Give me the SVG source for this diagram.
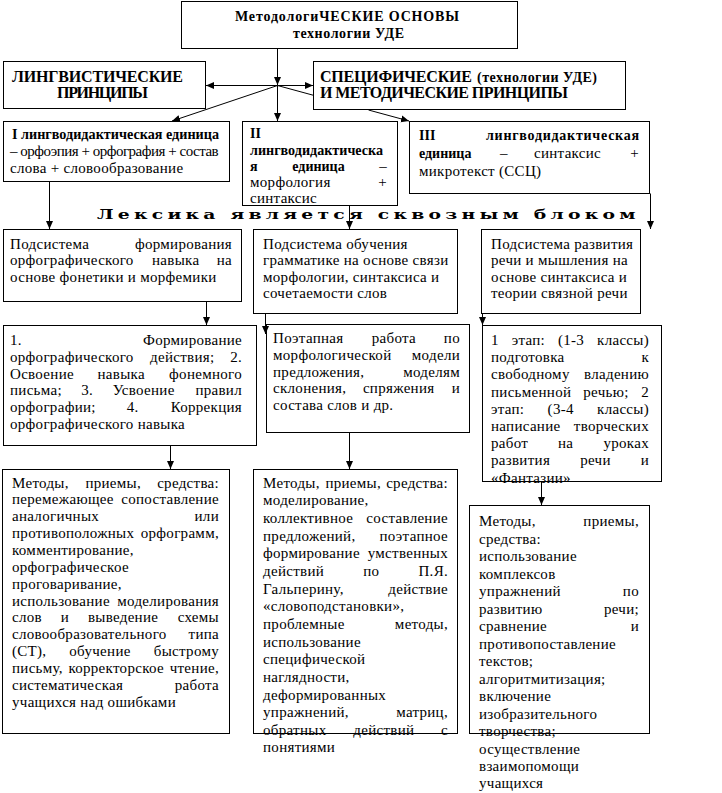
<svg xmlns="http://www.w3.org/2000/svg" width="722" height="793" viewBox="0 0 722 793">
<defs>
<marker id="ah" viewBox="0 0 8 8" refX="8" refY="4" markerWidth="8" markerHeight="8" markerUnits="userSpaceOnUse" orient="auto"><path d="M0,0.5 L8,4 L0,7.5 z" fill="#000"/></marker>
</defs>
<style>
rect{fill:#fff;stroke:#000;stroke-width:1}
text{font-family:"Liberation Serif","Times New Roman",serif;fill:#000}
.r{font-size:15px;letter-spacing:0.3px}
.bd{font-size:14px;font-weight:bold}
.hd{font-size:16px;font-weight:bold}
.ti{font-size:14px;font-weight:bold}
.e{text-anchor:end}
.m{text-anchor:middle}
.lx{font-family:"DejaVu Serif",serif;font-size:12.5px;font-weight:bold}
#conn path{stroke:#000;stroke-width:1;fill:none}
#conn path.a{marker-end:url(#ah)}
</style>
<rect x="0" y="0" width="722" height="793" style="stroke:none"/>

<g id="n-title"><rect x="181.5" y="1.5" width="336" height="47"/>
<text class="ti" x="235" y="21" textLength="224">МетодологиЧЕСКИЕ ОСНОВЫ</text>
<text class="ti" x="293" y="38" textLength="111">технологии УДЕ</text></g>

<g id="n-ling"><rect x="3.5" y="61.5" width="202" height="47"/>
<text class="hd" x="12" y="81.5" textLength="171">ЛИНГВИСТИЧЕСКИЕ</text>
<text class="hd" x="57" y="98" textLength="91">ПРИНЦИПЫ</text></g>

<g id="n-spec"><rect x="313.5" y="61.5" width="312" height="48"/>
<text class="hd" x="320" y="82" textLength="152">СПЕЦИФИЧЕСКИЕ</text>
<text class="ti" x="477" y="82" textLength="120">(технологии УДЕ)</text>
<text class="hd" x="320" y="98" textLength="248">И МЕТОДИЧЕСКИЕ ПРИНЦИПЫ</text></g>

<g id="n-u1"><rect x="3.5" y="121.5" width="226" height="60"/>
<text class="bd" x="12" y="139" textLength="207" lengthAdjust="spacingAndGlyphs">I лингводидактическая единица</text>
<text class="r" x="10" y="156" textLength="209">– орфоэпия + орфография + состав</text>
<text class="r" x="10" y="173">слова + словообразование</text></g>

<g id="n-u2"><rect x="242.5" y="121.5" width="155" height="84"/>
<text class="bd" x="250" y="138">II</text>
<text class="bd" x="250" y="155" textLength="133" lengthAdjust="spacingAndGlyphs">лингводидактическа</text>
<text class="bd" x="250" y="171">я</text><text class="bd m" x="318.5" y="171">единица</text><text class="r e" x="387" y="171">–</text>
<text class="r" x="250" y="187">морфология</text><text class="r e" x="387" y="187">+</text>
<text class="r" x="250" y="203">синтаксис</text></g>

<g id="n-u3"><rect x="409.5" y="121.5" width="240" height="72"/>
<text class="bd" x="419" y="140">III</text><text class="bd" x="486" y="140" textLength="153">лингводидактическая</text>
<text class="bd" x="419" y="158">единица</text><text class="r" x="500" y="158">–</text><text class="r" x="534" y="158">синтаксис</text><text class="r e" x="639" y="158">+</text>
<text class="r" x="419" y="176">микротекст (ССЦ)</text></g>

<g id="lexika"><text class="lx" transform="translate(97,218.5) scale(1.5,1)" textLength="359">Лексика является сквозным блоком</text></g>

<g id="n-a"><rect x="3.5" y="229.5" width="238" height="72"/>
<text class="r" x="10" y="248.5">Подсистема</text><text class="r e" x="232" y="248.5">формирования</text>
<text class="r" x="10" y="265">орфографического</text><text class="r" x="152" y="265">навыка</text><text class="r e" x="232" y="265">на</text>
<text class="r" x="10" y="281.5">основе фонетики и морфемики</text></g>

<g id="n-b"><rect x="253.5" y="229.5" width="204" height="84"/>
<text class="r" x="263" y="248.5">Подсистема обучения</text>
<text class="r" x="263" y="265">грамматике на основе связи</text>
<text class="r" x="263" y="281.5">морфологии, синтаксиса и</text>
<text class="r" x="263" y="298">сочетаемости слов</text></g>

<g id="n-c"><rect x="481.5" y="229.5" width="159" height="84"/>
<text class="r" x="491" y="248.5">Подсистема развития</text>
<text class="r" x="491" y="265">речи и мышления на</text>
<text class="r" x="491" y="281.5">основе синтаксиса и</text>
<text class="r" x="491" y="298">теории связной речи</text></g>

<g id="n-f"><rect x="3.5" y="325.5" width="253" height="120"/>
<text class="r" x="10" y="345">1.</text><text class="r e" x="242" y="345">Формирование</text>
<text class="r" x="10" y="361.8">орфографического</text><text class="r" x="150" y="361.8">действия;</text><text class="r e" x="242" y="361.8">2.</text>
<text class="r" x="10" y="378.6">Освоение</text><text class="r" x="97.5" y="378.6">навыка</text><text class="r e" x="242" y="378.6">фонемного</text>
<text class="r" x="10" y="395.4">письма;</text><text class="r" x="81.3" y="395.4">3.</text><text class="r" x="112.7" y="395.4">Усвоение</text><text class="r e" x="242" y="395.4">правил</text>
<text class="r" x="10" y="412.2">орфографии;</text><text class="r" x="126.7" y="412.2">4.</text><text class="r e" x="242" y="412.2">Коррекция</text>
<text class="r" x="10" y="429">орфографического навыка</text></g>

<g id="n-d"><rect x="266.5" y="324.5" width="203" height="108"/>
<text class="r" x="273" y="342.5">Поэтапная</text><text class="r" x="371.7" y="342.5">работа</text><text class="r e" x="460" y="342.5">по</text>
<text class="r" x="273" y="359.5">морфологической</text><text class="r e" x="460" y="359.5">модели</text>
<text class="r" x="273" y="376.5">предложения,</text><text class="r e" x="460" y="376.5">моделям</text>
<text class="r" x="273" y="393">склонения,</text><text class="r" x="362.9" y="393">спряжения</text><text class="r e" x="460" y="393">и</text>
<text class="r" x="273" y="410">состава слов и др.</text></g>

<g id="n-e"><rect x="482.5" y="325.5" width="179" height="156"/>
<text class="r" x="491" y="345">1</text><text class="r" x="511.7" y="345">этап:</text><text class="r" x="557.9" y="345">(1-3</text><text class="r e" x="649" y="345">классы)</text>
<text class="r" x="491" y="362.2">подготовка</text><text class="r e" x="649" y="362.2">к</text>
<text class="r" x="491" y="379.4">свободному</text><text class="r e" x="649" y="379.4">владению</text>
<text class="r" x="491" y="396.6">письменной</text><text class="r" x="583.3" y="396.6">речью;</text><text class="r e" x="649" y="396.6">2</text>
<text class="r" x="491" y="413.8">этап:</text><text class="r" x="547.6" y="413.8">(3-4</text><text class="r e" x="649" y="413.8">классы)</text>
<text class="r" x="491" y="431">написание</text><text class="r e" x="649" y="431">творческих</text>
<text class="r" x="491" y="448.2">работ</text><text class="r" x="558" y="448.2">на</text><text class="r e" x="649" y="448.2">уроках</text>
<text class="r" x="491" y="465.4">развития</text><text class="r" x="580.2" y="465.4">речи</text><text class="r e" x="649" y="465.4">и</text>
<text class="r" x="491" y="482.6">«Фантазии»</text></g>

<g id="n-g"><rect x="2.5" y="469.5" width="227" height="264"/>
<text class="r" x="12" y="487.5">Методы,</text><text class="r" x="85.4" y="487.5">приемы,</text><text class="r e" x="219" y="487.5">средства:</text>
<text class="r" x="12" y="504.4">перемежающее</text><text class="r e" x="219" y="504.4">сопоставление</text>
<text class="r" x="12" y="521.2">аналогичных</text><text class="r e" x="219" y="521.2">или</text>
<text class="r" x="12" y="538.1">противоположных</text><text class="r e" x="219" y="538.1">орфограмм,</text>
<text class="r" x="12" y="554.9">комментирование,</text>
<text class="r" x="12" y="571.8">орфографическое</text>
<text class="r" x="12" y="588.6">проговаривание,</text>
<text class="r" x="12" y="605.5">использование</text><text class="r e" x="219" y="605.5">моделирования</text>
<text class="r" x="12" y="622.3">слов</text><text class="r" x="60.8" y="622.3">и</text><text class="r" x="87.9" y="622.3">выведение</text><text class="r e" x="219" y="622.3">схемы</text>
<text class="r" x="12" y="639.2">словообразовательного</text><text class="r e" x="219" y="639.2">типа</text>
<text class="r" x="12" y="656">(СТ),</text><text class="r" x="69.3" y="656">обучение</text><text class="r e" x="219" y="656">быстрому</text>
<text class="r" x="12" y="672.9">письму,</text><text class="r" x="68.4" y="672.9">корректорское</text><text class="r e" x="219" y="672.9">чтение,</text>
<text class="r" x="12" y="689.7">систематическая</text><text class="r e" x="219" y="689.7">работа</text>
<text class="r" x="12" y="706.6">учащихся над ошибками</text></g>

<g id="n-h"><rect x="253.5" y="469.5" width="204" height="264"/>
<text class="r" x="263" y="487.5">Методы,</text><text class="r" x="325.4" y="487.5">приемы,</text><text class="r e" x="448" y="487.5">средства:</text>
<text class="r" x="263" y="505.2">моделирование,</text>
<text class="r" x="263" y="522.8">коллективное</text><text class="r e" x="448" y="522.8">составление</text>
<text class="r" x="263" y="540.5">предложений,</text><text class="r e" x="448" y="540.5">поэтапное</text>
<text class="r" x="263" y="558.2">формирование</text><text class="r e" x="448" y="558.2">умственных</text>
<text class="r" x="263" y="575.8">действий</text><text class="r" x="363.3" y="575.8">по</text><text class="r e" x="448" y="575.8">П.Я.</text>
<text class="r" x="263" y="593.5">Гальперину,</text><text class="r e" x="448" y="593.5">действие</text>
<text class="r" x="263" y="611.2">«словоподстановки»,</text>
<text class="r" x="263" y="628.8">проблемные</text><text class="r e" x="448" y="628.8">методы,</text>
<text class="r" x="263" y="646.5">использование</text>
<text class="r" x="263" y="664.2">специфической</text>
<text class="r" x="263" y="681.8">наглядности,</text>
<text class="r" x="263" y="699.5">деформированных</text>
<text class="r" x="263" y="717.2">упражнений,</text><text class="r e" x="448" y="717.2">матриц,</text>
<text class="r" x="263" y="734.8">обратных</text><text class="r" x="353.3" y="734.8">действий</text><text class="r e" x="448" y="734.8">с</text>
<text class="r" x="263" y="752">понятиями</text></g>

<g id="n-i"><rect x="469.5" y="505.5" width="180" height="228"/>
<text class="r" x="479" y="526">Методы,</text><text class="r e" x="639" y="526">приемы,</text>
<text class="r" x="479" y="543.5">средства:</text>
<text class="r" x="479" y="561">использование</text>
<text class="r" x="479" y="578.5">комплексов</text>
<text class="r" x="479" y="596">упражнений</text><text class="r e" x="639" y="596">по</text>
<text class="r" x="479" y="613.5">развитию</text><text class="r e" x="639" y="613.5">речи;</text>
<text class="r" x="479" y="631">сравнение</text><text class="r e" x="639" y="631">и</text>
<text class="r" x="479" y="648.5">противопоставление</text>
<text class="r" x="479" y="666">текстов;</text>
<text class="r" x="479" y="683.5">алгоритмитизация;</text>
<text class="r" x="479" y="701">включение</text>
<text class="r" x="479" y="718.5">изобразительного</text>
<text class="r" x="479" y="736">творчества;</text>
<text class="r" x="479" y="753.5">осуществление</text>
<text class="r" x="479" y="771">взаимопомощи</text>
<text class="r" x="479" y="788">учащихся</text></g>

<g id="conn">
<path class="a" d="M277.5,49 V85"/>
<path class="a" d="M277.5,85.5 H206"/>
<path class="a" d="M277.5,85.5 H313"/>
<path class="a" d="M277.5,85.5 V121"/>
<path class="a" d="M277.5,85.5 L172,121"/>
<path d="M277.5,85.5 L313.5,95.3"/>
<path class="a" d="M368.5,110 L409,121"/>
<path class="a" d="M49.5,181.5 V229"/>
<path class="a" d="M349.5,205.5 V229"/>
<path class="a" d="M650.5,193.5 V229"/>
<path class="a" d="M206.5,301.5 V325"/>
<path class="a" d="M265.5,313.5 V334"/>
<path class="a" d="M482.5,313.5 V325"/>
<path class="a" d="M170.5,445.5 V469"/>
<path class="a" d="M349.5,432.5 V469"/>
<path class="a" d="M541.5,481.5 V505"/>
</g>
</svg>
